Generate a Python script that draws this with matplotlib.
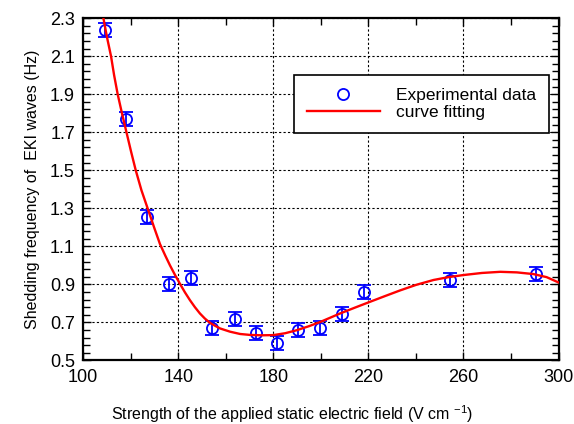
import numpy as np
import matplotlib
matplotlib.use('Agg')
import matplotlib.pyplot as plt
from matplotlib.lines import Line2D
from matplotlib.ticker import FormatStrFormatter

plt.rcParams['font.family'] = ['Liberation Sans', 'DejaVu Sans']
plt.rcParams['mathtext.default'] = 'regular'

field = [109, 118, 127, 136.3, 145.4, 154.3, 163.7, 172.9, 181.7, 190.3, 199.8, 209, 218, 254.4, 290.6]
freq = [2.24, 1.77, 1.253, 0.90, 0.935, 0.672, 0.716, 0.645, 0.593, 0.66, 0.672, 0.742, 0.861, 0.923, 0.953]
err = [0.037] * 15

# fitted curve, sampled from the chart
fit_x = [108.2, 110, 111.7, 113, 114.5, 116.3, 118.2, 120.1, 122.1, 124.5, 127.1, 129.9, 132.3, 134.5,
         136.5, 138.6, 140.7, 142.8, 144.9, 147, 149.1, 151.2, 153.3, 155.5, 157.6, 161.8, 166, 170.2,
         175, 180, 185, 189.9, 195, 199.7, 204, 208.1, 214, 220, 226.7, 233.3, 240, 247.4, 253.7, 260,
         267.8, 275.5, 282.5, 289.5, 295, 299.3, 300]
fit_y = [2.32, 2.20, 2.10, 2.00, 1.90, 1.80, 1.70, 1.60, 1.50, 1.395, 1.30, 1.197, 1.112, 1.052,
         1.00, 0.95, 0.903, 0.858, 0.817, 0.78, 0.747, 0.72, 0.698, 0.682, 0.668, 0.651, 0.639, 0.634,
         0.632, 0.633, 0.643, 0.659, 0.68, 0.702, 0.725, 0.747, 0.776, 0.805, 0.837, 0.868, 0.897, 0.923,
         0.938, 0.949, 0.96, 0.966, 0.963, 0.954, 0.938, 0.914, 0.91]

xticks = [100, 140, 180, 220, 260, 300]
yticks = [0.5, 0.7, 0.9, 1.1, 1.3, 1.5, 1.7, 1.9, 2.1, 2.3]

fig = plt.figure(figsize=(5.74, 4.24), dpi=100)
ax = fig.add_axes([0.145, 0.150, 0.828, 0.807])

ax.errorbar(field, freq, yerr=err, fmt='o', color='#0000ff', mfc='none', mec='#0000ff',
            ms=8, mew=1.3, elinewidth=1.3, capsize=4.8, capthick=1.3, zorder=3)
ax.plot(fit_x, fit_y, color='#ff0000', lw=1.7, zorder=4)

ax.set_xlim(100, 300)
ax.set_ylim(0.5, 2.3)
ax.set_xticks(xticks)
ax.set_xticks(np.arange(100, 301, 20), minor=True)
ax.set_yticks(yticks)
ax.set_yticks(np.arange(0.5, 2.31, 0.04), minor=True)
ax.yaxis.set_major_formatter(FormatStrFormatter('%.1f'))

ax.tick_params(which='both', direction='in', top=True, right=True, labelsize=13, width=1)
ax.tick_params(which='major', length=6, pad=6)
ax.tick_params(which='minor', length=5)
for s in ax.spines.values():
    s.set_linewidth(1.6)

ax.grid(True, which='major', color='black', linestyle=(0, (2, 2)), linewidth=0.8)

ax.set_xlabel('Strength of the applied static electric field (V cm $^{-1}$)', fontsize=11.5, labelpad=13, x=0.439)
ax.set_ylabel('Shedding frequency of  EKI waves (Hz)', fontsize=11.5, labelpad=7)

handles = [Line2D([], [], ls='none', marker='o', ms=8, mfc='none', mec='#0000ff', mew=1.3),
           Line2D([], [], color='#ff0000', lw=1.7)]
leg = ax.legend(handles, ['Experimental data', 'curve fitting'], loc='upper right',
                bbox_to_anchor=(0.981, 0.834), fontsize=12.5, frameon=True, fancybox=False,
                handlelength=4.2, handletextpad=0.95, borderpad=0.75, borderaxespad=0,
                labelspacing=0.1)
leg.get_frame().set_edgecolor('black')
leg.get_frame().set_linewidth(1.2)
leg.get_frame().set_alpha(1)

fig.savefig('out.png', dpi=100)
